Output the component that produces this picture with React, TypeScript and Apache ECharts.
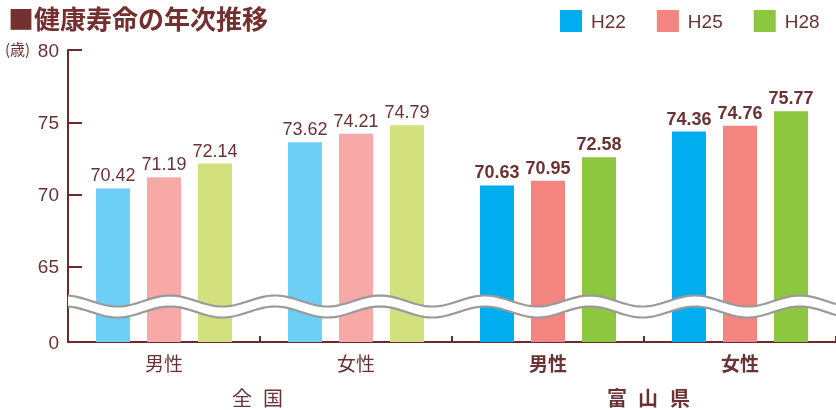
import React, { useEffect, useRef } from "react";
import * as echarts from "echarts";

const categories = ["男性", "女性", "男性", "女性"];
const groupNames = ["全国", "富山県"];
const seriesNames = ["H22", "H25", "H28"];
const h22 = [70.42, 73.62, 70.63, 74.36];
const h25 = [71.19, 74.21, 70.95, 74.76];
const h28 = [72.14, 74.79, 72.58, 75.77];
const yTickValues = [59.8, 65, 70, 75, 80];
const yTickLabels = ["0", "65", "70", "75", "80"];

const lightColors = ["#6dcff6", "#f7a9a8", "#d3e07e"];
const darkColors = ["#00aeef", "#f48480", "#8dc63f"];
const TEXT = "#6a3234";
const AXIS = "#6b2a2c";
const NUM_FONT = "'Liberation Sans', Arial, sans-serif";
const CJK_FONT = "'Noto Sans CJK JP', sans-serif";

function wave(x0: number, x1: number, center: number, amp: number, period: number, peakX: number) {
  const pts: number[][] = [];
  for (let x = x0; x <= x1; x += 2) {
    pts.push([x, center - amp * Math.cos((2 * Math.PI * (x - peakX)) / period)]);
  }
  return pts;
}

export default function App() {
  const ref = useRef<HTMLDivElement>(null);
  useEffect(() => {
    if (!ref.current) return;
    const chart = echarts.init(ref.current, null, { renderer: "svg" });
    const allSeries = [h22, h25, h28];
    const series = allSeries.map((vals, si) => ({
      name: seriesNames[si],
      type: "bar",
      barWidth: 34,
      barGap: "50%",
      itemStyle: { color: darkColors[si] },
      label: {
        show: true,
        position: "top",
        distance: 4,
        color: TEXT,
        fontSize: 18,
        fontFamily: NUM_FONT,
        formatter: (p: any) => p.value.toFixed(2),
      },
      data: vals.map((v, i) => ({
        value: v,
        itemStyle: { color: i < 2 ? lightColors[si] : darkColors[si] },
        label: { fontWeight: i < 2 ? "normal" : "bold" },
      })),
    }));

    const topWave = wave(68, 836, 301, 5.5, 105, 170);
    const botWave = wave(68, 836, 312, 5.5, 105, 170);
    const band = topWave.concat(botWave.slice().reverse());

    const groupChars = [
      { chars: Array.from(groupNames[0]), xs: [242, 273], bold: false },
      { chars: Array.from(groupNames[1]), xs: [617, 648, 680], bold: true },
    ];
    const groupTexts: any[] = [];
    groupChars.forEach((g) =>
      g.chars.forEach((c, i) =>
        groupTexts.push({
          type: "text",
          x: g.xs[i],
          y: 397,
          z: 10,
          style: {
            text: c,
            fill: TEXT,
            font: `${g.bold ? "bold " : ""}20px ${CJK_FONT}`,
            align: "center",
            verticalAlign: "middle",
          },
        })
      )
    );

    chart.setOption({
      animation: false,
      title: {
        text: "■健康寿命の年次推移",
        left: 3,
        top: -1,
        textStyle: { fontSize: 26, fontWeight: "bold", color: "#73302f", fontFamily: CJK_FONT },
      },
      legend: {
        data: seriesNames,
        left: 560,
        top: 10,
        itemWidth: 22,
        itemHeight: 22,
        itemGap: 31,
        padding: 0,
        icon: "rect",
        textStyle: { fontSize: 19, color: TEXT, fontFamily: NUM_FONT, padding: [0, 0, 0, 4] },
      },
      grid: { left: 68, top: 50, width: 774, height: 292, containLabel: false },
      xAxis: {
        type: "category",
        data: categories,
        axisLine: { lineStyle: { color: AXIS, width: 2 } },
        axisTick: { show: true, inside: true, length: 6, lineStyle: { color: AXIS, width: 2 } },
        axisLabel: {
          margin: 11,
          formatter: (v: string, i: number) => (i >= 2 ? `{b|${v}}` : `{n|${v}}`),
          rich: {
            n: { fontSize: 19, color: TEXT, fontFamily: CJK_FONT },
            b: { fontSize: 19, color: TEXT, fontFamily: CJK_FONT, fontWeight: "bold" },
          },
        },
      },
      yAxis: {
        type: "value",
        min: 59.8,
        max: 80,
        splitLine: { show: false },
        axisLine: { show: true, lineStyle: { color: AXIS, width: 2 } },
        axisTick: {
          show: true,
          inside: true,
          length: 14,
          customValues: yTickValues,
          lineStyle: { color: AXIS, width: 2 },
        },
        axisLabel: {
          customValues: yTickValues,
          margin: 9,
          fontSize: 19,
          color: TEXT,
          fontFamily: NUM_FONT,
          formatter: (v: number) => yTickLabels[yTickValues.indexOf(v)] ?? "",
        },
      },
      graphic: [
        {
          type: "text",
          x: 5,
          y: 48,
          style: {
            text: "(歳)",
            fill: TEXT,
            font: `15px ${CJK_FONT}`,
            verticalAlign: "middle",
          },
        },
        {
          type: "polygon",
          z: 100,
          shape: { points: band },
          style: { fill: "#ffffff" },
        },
        {
          type: "polyline",
          z: 101,
          shape: { points: topWave },
          style: { stroke: "#9a9a9a", lineWidth: 2.2, fill: null },
        },
        {
          type: "polyline",
          z: 101,
          shape: { points: botWave },
          style: { stroke: "#9a9a9a", lineWidth: 2.2, fill: null },
        },
        ...groupTexts,
      ],
      series,
    });
    return () => chart.dispose();
  }, []);
  return (
    <div
      ref={ref}
      style={{ position: "fixed", left: 0, top: 0, width: 836, height: 410 }}
    />
  );
}
